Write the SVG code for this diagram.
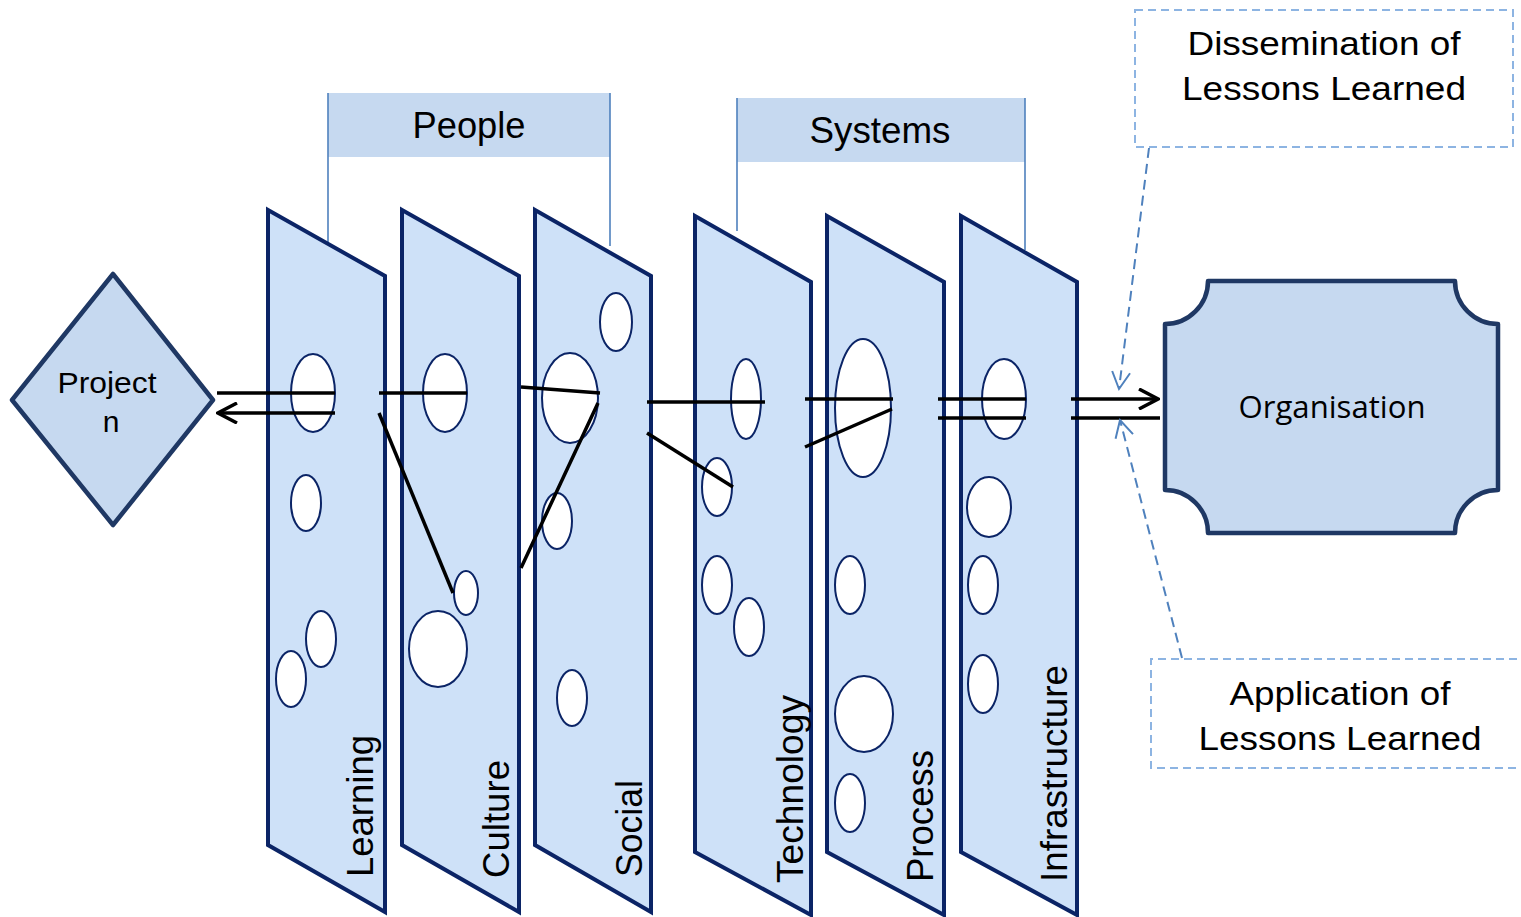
<svg xmlns="http://www.w3.org/2000/svg" width="1521" height="917" viewBox="0 0 1521 917">
<defs>
<style>
.panel{fill:#CEE1F8;stroke:#0B2466;stroke-width:4;stroke-linejoin:miter}
.hole{fill:#ffffff;stroke:#0B2466;stroke-width:2}
.lbl{font-family:"Liberation Sans",Arial,sans-serif;font-size:36px;fill:#000}
.grp{fill:#C6D9F0}
.grpline{stroke:#4F81BD;stroke-width:1.6;fill:none}
.flow{stroke:#000;stroke-width:3.5;fill:none}
.dash{stroke:#4F81BD;stroke-width:2;fill:none;stroke-dasharray:10 6}
.box{fill:none;stroke:#8DB4E2;stroke-width:2;stroke-dasharray:8 5}
.node{fill:#C6D9F0;stroke:#1F3864;stroke-width:4.5;stroke-linejoin:round}
</style>
<marker id="ab" viewBox="0 0 22 22" refX="20" refY="11" markerWidth="22" markerHeight="22" markerUnits="userSpaceOnUse" orient="auto">
<path d="M1,1 L20,11 L1,21" fill="none" stroke="#000" stroke-width="3.5"/>
</marker>
<marker id="ad" viewBox="0 0 20 20" refX="18" refY="10" markerWidth="20" markerHeight="20" markerUnits="userSpaceOnUse" orient="auto">
<path d="M1,1 L18,10 L1,19" fill="none" stroke="#4F81BD" stroke-width="2"/>
</marker>
</defs>
<rect width="1521" height="917" fill="#ffffff"/>

<g id="group-people">
<rect class="grp" x="328" y="93" width="282" height="64"/>
<path class="grpline" d="M328,93 V243 M610,93 V246"/>
<text class="lbl" x="469" y="138" text-anchor="middle" textLength="113" lengthAdjust="spacingAndGlyphs">People</text>
</g>
<g id="group-systems">
<rect class="grp" x="737" y="98" width="288" height="64"/>
<path class="grpline" d="M737,98 V231 M1025,98 V250"/>
<text class="lbl" x="880" y="143" text-anchor="middle" textLength="141" lengthAdjust="spacingAndGlyphs">Systems</text>
</g>

<g id="project">
<polygon class="node" points="113,274 213,400 113,525 12,400"/>
<text class="lbl" style="font-size:30px" x="107" y="393" text-anchor="middle" textLength="99" lengthAdjust="spacingAndGlyphs">Project</text>
<text class="lbl" style="font-size:30px" x="111" y="432" text-anchor="middle">n</text>
</g>

<g id="panel-learning">
<polygon class="panel" points="268,210 385,276 385,912 268,845"/>
<ellipse class="hole" cx="313" cy="393" rx="22" ry="39"/>
<ellipse class="hole" cx="306" cy="503" rx="15" ry="28"/>
<ellipse class="hole" cx="321" cy="639" rx="15" ry="28"/>
<ellipse class="hole" cx="291" cy="679" rx="15" ry="28"/>
<text class="lbl" transform="translate(373,877) rotate(-90)" textLength="142" lengthAdjust="spacingAndGlyphs">Learning</text>
</g>
<g id="panel-culture">
<polygon class="panel" points="402,210 519,276 519,912 402,845"/>
<ellipse class="hole" cx="445" cy="393" rx="22" ry="39"/>
<ellipse class="hole" cx="466" cy="593" rx="12" ry="22"/>
<ellipse class="hole" cx="438" cy="649" rx="29" ry="38"/>
<text class="lbl" transform="translate(509,878) rotate(-90)" textLength="118" lengthAdjust="spacingAndGlyphs">Culture</text>
</g>
<g id="panel-social">
<polygon class="panel" points="535,210 651,276 651,912 535,845"/>
<ellipse class="hole" cx="616" cy="322" rx="16" ry="29"/>
<ellipse class="hole" cx="570" cy="398" rx="28" ry="45"/>
<ellipse class="hole" cx="557" cy="521" rx="15" ry="28"/>
<ellipse class="hole" cx="572" cy="698" rx="15" ry="28"/>
<text class="lbl" transform="translate(642,877) rotate(-90)" textLength="97" lengthAdjust="spacingAndGlyphs">Social</text>
</g>
<g id="panel-technology">
<polygon class="panel" points="695,216 811,282 811,915 695,852"/>
<ellipse class="hole" cx="746" cy="399" rx="15" ry="40"/>
<ellipse class="hole" cx="717" cy="487" rx="15" ry="29"/>
<ellipse class="hole" cx="717" cy="585" rx="15" ry="29"/>
<ellipse class="hole" cx="749" cy="627" rx="15" ry="29"/>
<text class="lbl" transform="translate(803,883) rotate(-90)" textLength="188" lengthAdjust="spacingAndGlyphs">Technology</text>
</g>
<g id="panel-process">
<polygon class="panel" points="827,216 944,282 944,915 827,852"/>
<ellipse class="hole" cx="863" cy="408" rx="28" ry="69"/>
<ellipse class="hole" cx="850" cy="585" rx="15" ry="29"/>
<ellipse class="hole" cx="864" cy="714" rx="29" ry="38"/>
<ellipse class="hole" cx="850" cy="803" rx="15" ry="29"/>
<text class="lbl" transform="translate(933,882) rotate(-90)" textLength="132" lengthAdjust="spacingAndGlyphs">Process</text>
</g>
<g id="panel-infrastructure">
<polygon class="panel" points="961,216 1077,282 1077,915 961,852"/>
<ellipse class="hole" cx="1004" cy="399" rx="22" ry="40"/>
<ellipse class="hole" cx="989" cy="507" rx="22" ry="30"/>
<ellipse class="hole" cx="983" cy="585" rx="15" ry="29"/>
<ellipse class="hole" cx="983" cy="684" rx="15" ry="29"/>
<text class="lbl" transform="translate(1067,882) rotate(-90)" textLength="217" lengthAdjust="spacingAndGlyphs">Infrastructure</text>
</g>

<g id="organisation">
<path class="node" d="M1208,281 H1455 A43,43 0 0 0 1498,324 V490 A43,43 0 0 0 1455,533 H1208 A43,43 0 0 0 1165,490 V324 A43,43 0 0 0 1208,281 Z"/>
<text x="1332" y="418" text-anchor="middle" font-family="'Open Sans','Noto Sans',sans-serif" font-size="31" textLength="187" lengthAdjust="spacingAndGlyphs">Organisation</text>
</g>

<g id="dissemination">
<rect class="box" x="1135" y="10" width="378" height="137"/>
<text class="lbl" x="1324" y="55" text-anchor="middle" style="font-size:34px" textLength="273" lengthAdjust="spacingAndGlyphs">Dissemination of</text>
<text class="lbl" x="1324" y="100" text-anchor="middle" style="font-size:34px" textLength="284" lengthAdjust="spacingAndGlyphs">Lessons Learned</text>
</g>
<g id="application">
<path class="box" d="M1530,659 H1151 V768 H1530"/>
<text class="lbl" x="1340" y="705" text-anchor="middle" style="font-size:34px" textLength="221" lengthAdjust="spacingAndGlyphs">Application of</text>
<text class="lbl" x="1340" y="750" text-anchor="middle" style="font-size:34px" textLength="283" lengthAdjust="spacingAndGlyphs">Lessons Learned</text>
</g>

<g id="connectors">
<line class="flow" x1="217" y1="393" x2="335" y2="393"/>
<line class="flow" x1="335" y1="413" x2="218" y2="413" marker-end="url(#ab)"/>
<line class="flow" x1="379" y1="393" x2="467" y2="393"/>
<line class="flow" x1="379" y1="413" x2="453" y2="593"/>
<line class="flow" x1="521" y1="387" x2="600" y2="393"/>
<line class="flow" x1="598" y1="403" x2="521" y2="568"/>
<line class="flow" x1="647" y1="402" x2="765" y2="402"/>
<line class="flow" x1="647" y1="433" x2="733" y2="487"/>
<line class="flow" x1="805" y1="399" x2="893" y2="399"/>
<line class="flow" x1="805" y1="447" x2="892" y2="409"/>
<line class="flow" x1="938" y1="399" x2="1026" y2="399"/>
<line class="flow" x1="938" y1="418" x2="1026" y2="418"/>
<line class="flow" x1="1071" y1="399" x2="1158" y2="399" marker-end="url(#ab)"/>
<line class="flow" x1="1071" y1="418" x2="1160" y2="418"/>
<line class="dash" x1="1149" y1="148" x2="1119" y2="389" marker-end="url(#ad)"/>
<line class="dash" x1="1182" y1="658" x2="1120" y2="420" marker-end="url(#ad)"/>
</g>
</svg>
